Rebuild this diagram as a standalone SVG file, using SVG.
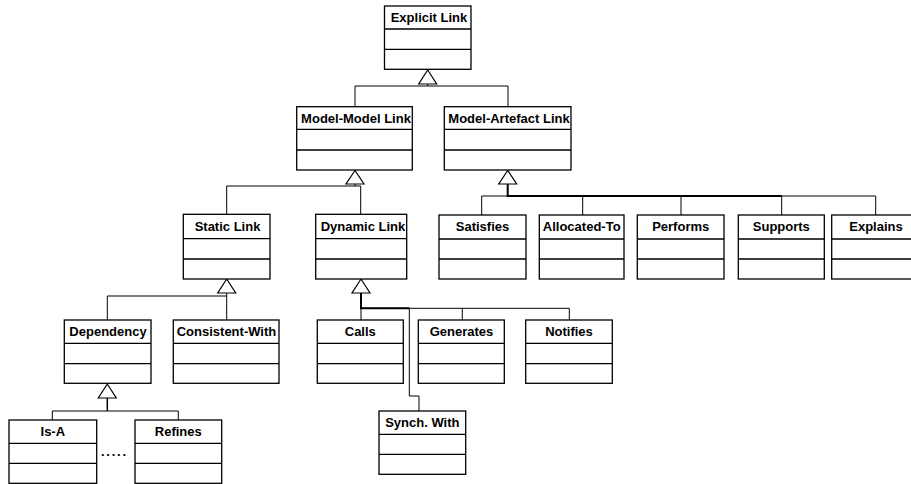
<svg xmlns="http://www.w3.org/2000/svg" width="911" height="484" viewBox="0 0 911 484">
<style>
.box{fill:#fff;stroke:#000;stroke-width:1.3}
.div{stroke:#000;stroke-width:1.3}
.lbl{font-family:"Liberation Sans",Arial,sans-serif;font-weight:bold;font-size:13px;text-anchor:middle;fill:#000}
.c{fill:none;stroke:#000;stroke-width:1}
.t{fill:none;stroke:#000;stroke-width:2}
.tri{fill:#fff;stroke:#000;stroke-width:1.2}
</style>
<rect width="911" height="484" fill="#fff"/>
<g id="connectors">
<path class="c" d="M427.7 84V86M355 86H508M355 86V106.7M508 86V106.7"/>
<path class="c" d="M355 184V186M226.7 186H360.7M226.7 186V214.3M360.7 186V214.3"/>
<path class="c" d="M481.7 196H875.7M481.7 196V215M582.7 196V215M681 196V215M781.7 196V215M875.7 196V215"/>
<path class="t" d="M507.7 184V196H781.7"/>
<path class="c" d="M226.7 293V296M107.3 296H226.7M107.3 296V320M226.7 296V320"/>
<path class="c" d="M361 308.3H569.3M361 308.3V320M462.3 308.3V320M569.3 308.3V320M409.3 308.3V396H419V411"/>
<path class="t" d="M361 293V308.3H409.3"/>
<path class="c" d="M107.3 411H52.3V420M107.3 411H178.3V420"/>
<path class="t" d="M107.3 398V411" style="stroke-width:1.5"/>
<polygon class="tri" points="427.7,70 418.7,84 436.7,84"/>
<polygon class="tri" points="355,170.5 346,184 364,184"/>
<polygon class="tri" points="507.7,170.5 498.7,184 516.7,184"/>
<polygon class="tri" points="226.7,279 217.7,293 235.7,293"/>
<polygon class="tri" points="361,279 352,293 370,293"/>
<polygon class="tri" points="107.3,384 98.3,398 116.3,398"/>
</g>
<g id="explicit-link"><rect class="box" x="384.5" y="6" width="86.5" height="63.3"/><path class="div" d="M384.5 29H471M384.5 49.3H471"/><text class="lbl" x="429" y="22">Explicit Link</text></g>
<g id="model-model-link"><rect class="box" x="296.7" y="106.7" width="115.6" height="63.3"/><path class="div" d="M296.7 129.3H412.3M296.7 150H412.3"/><text class="lbl" x="356" y="122.5">Model-Model Link</text></g>
<g id="model-artefact-link"><rect class="box" x="444.3" y="106.7" width="126.7" height="63.3"/><path class="div" d="M444.3 129.3H571M444.3 150H571"/><text class="lbl" x="509" y="122.5">Model-Artefact Link</text></g>
<g id="static-link"><rect class="box" x="183.3" y="214.3" width="86.7" height="64.7"/><path class="div" d="M183.3 238.7H270M183.3 259H270"/><text class="lbl" x="227.5" y="230.5">Static Link</text></g>
<g id="dynamic-link"><rect class="box" x="315.7" y="214.3" width="91" height="64.7"/><path class="div" d="M315.7 238.7H406.7M315.7 259H406.7"/><text class="lbl" x="363" y="230.5">Dynamic Link</text></g>
<g id="satisfies"><rect class="box" x="439" y="215" width="87" height="64"/><path class="div" d="M439 239H526M439 259H526"/><text class="lbl" x="482.5" y="231">Satisfies</text></g>
<g id="allocated-to"><rect class="box" x="539.3" y="215" width="84.7" height="64"/><path class="div" d="M539.3 239H624M539.3 259H624"/><text class="lbl" x="581.7" y="231">Allocated-To</text></g>
<g id="performs"><rect class="box" x="637.3" y="215" width="86.7" height="64"/><path class="div" d="M637.3 239H724M637.3 259H724"/><text class="lbl" x="680.7" y="231">Performs</text></g>
<g id="supports"><rect class="box" x="738.3" y="215" width="86" height="64"/><path class="div" d="M738.3 239H824.3M738.3 259H824.3"/><text class="lbl" x="781.3" y="231">Supports</text></g>
<g id="explains"><rect class="box" x="831.7" y="215" width="88" height="64"/><path class="div" d="M831.7 239H919.7M831.7 259H919.7"/><text class="lbl" x="876" y="231">Explains</text></g>
<g id="dependency"><rect class="box" x="64.3" y="320" width="86.7" height="63.3"/><path class="div" d="M64.3 343.3H151M64.3 363.7H151"/><text class="lbl" x="108" y="336">Dependency</text></g>
<g id="consistent-with"><rect class="box" x="173.3" y="320" width="105.7" height="63.3"/><path class="div" d="M173.3 343.3H279M173.3 363.7H279"/><text class="lbl" x="226.5" y="336">Consistent-With</text></g>
<g id="calls"><rect class="box" x="317.3" y="320" width="86" height="63.3"/><path class="div" d="M317.3 343.3H403.3M317.3 363.7H403.3"/><text class="lbl" x="360.3" y="336">Calls</text></g>
<g id="generates"><rect class="box" x="418.3" y="320" width="86" height="63.3"/><path class="div" d="M418.3 343.3H504.3M418.3 363.7H504.3"/><text class="lbl" x="461.5" y="336">Generates</text></g>
<g id="notifies"><rect class="box" x="525.7" y="320" width="86.6" height="63.3"/><path class="div" d="M525.7 343.3H612.3M525.7 363.7H612.3"/><text class="lbl" x="569" y="336">Notifies</text></g>
<g id="synch-with"><rect class="box" x="379" y="411" width="86.7" height="63.3"/><path class="div" d="M379 434.3H465.7M379 454.3H465.7"/><text class="lbl" x="422.3" y="427">Synch. With</text></g>
<g id="is-a"><rect class="box" x="9" y="420" width="87.7" height="63.3"/><path class="div" d="M9 443.3H96.7M9 463.3H96.7"/><text class="lbl" x="52.8" y="436">Is-A</text></g>
<g id="refines"><rect class="box" x="135" y="420" width="86.7" height="63.3"/><path class="div" d="M135 443.3H221.7M135 463.3H221.7"/><text class="lbl" x="178.3" y="436">Refines</text></g>
<text class="lbl" x="113.5" y="456" textLength="25" lengthAdjust="spacing">.....</text>
</svg>
